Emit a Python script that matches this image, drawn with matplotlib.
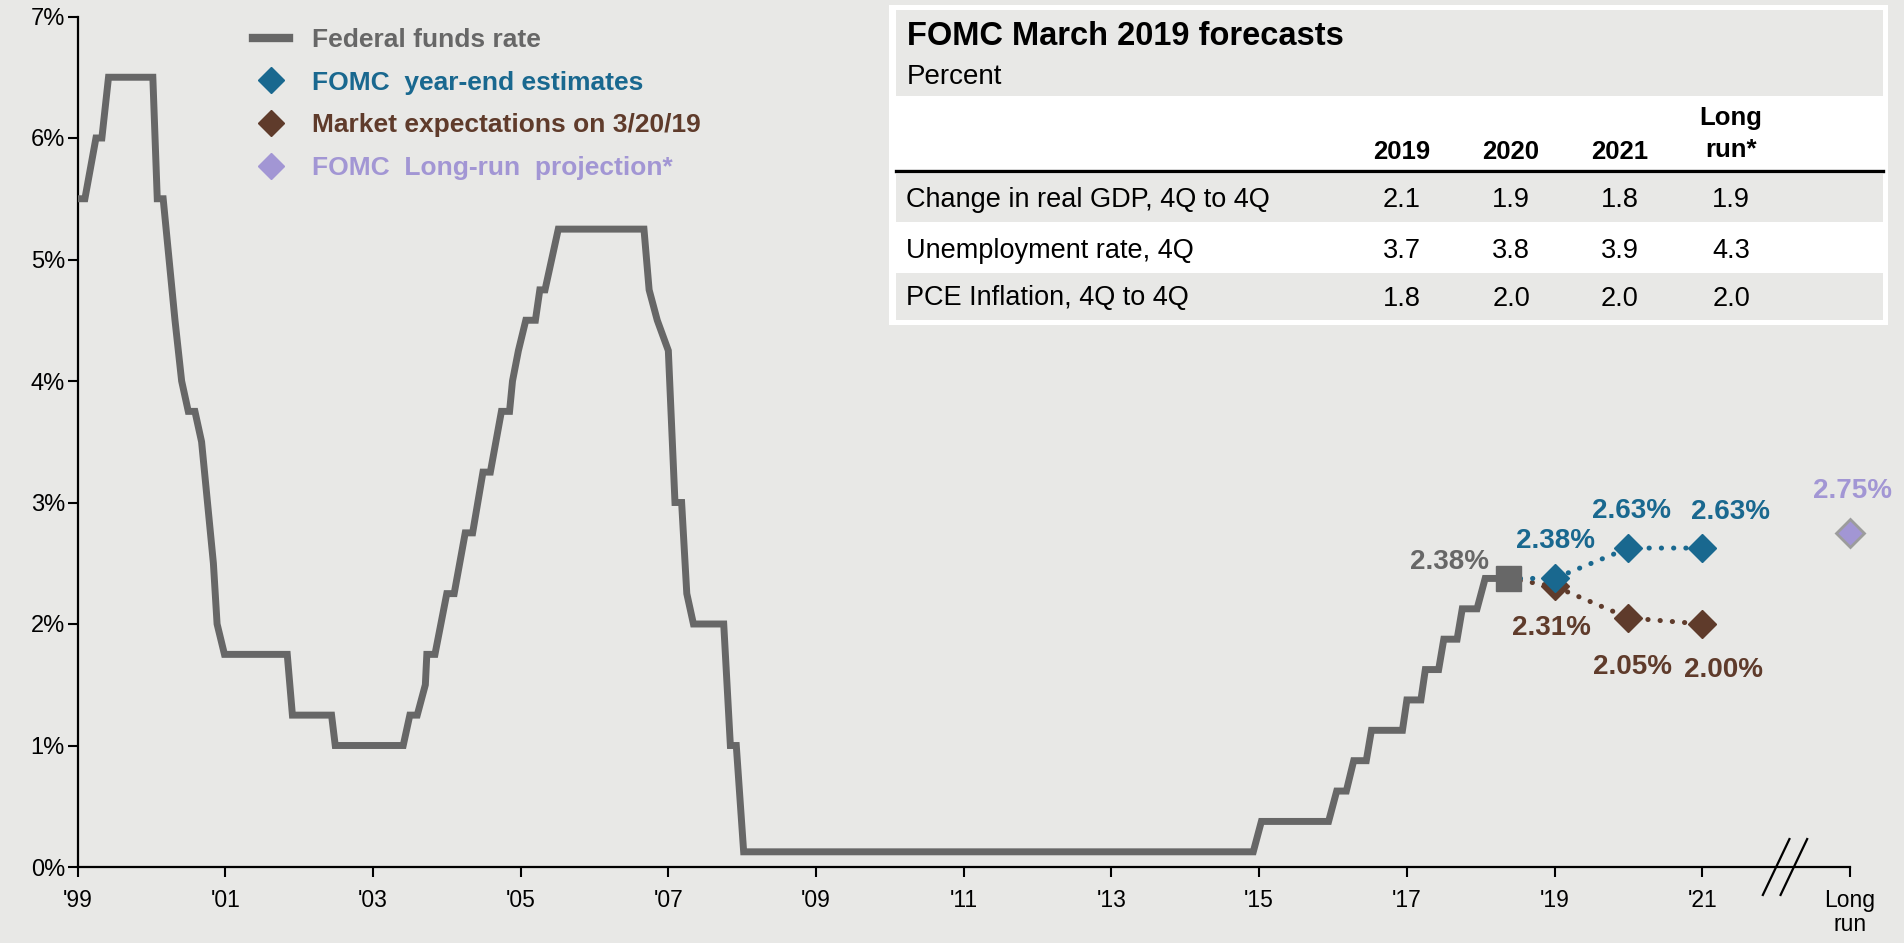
import matplotlib.pyplot as plt
from matplotlib.lines import Line2D
from matplotlib.patches import Rectangle

# Federal funds rate (chart years as plotted, target rate midpoint %)
fed_years = [1999.0, 1999.1, 1999.25, 1999.33, 1999.42, 2000.02, 2000.08, 2000.16, 2000.32,
             2000.41, 2000.5, 2000.59, 2000.68, 2000.84, 2000.89, 2000.99, 2001.84, 2001.91,
             2002.44, 2002.49, 2003.41, 2003.5, 2003.6, 2003.71, 2003.73, 2003.84, 2004.0,
             2004.1, 2004.25, 2004.35, 2004.49, 2004.59, 2004.74, 2004.85, 2004.89, 2004.97,
             2005.07, 2005.2, 2005.26, 2005.33, 2005.51, 2006.67, 2006.74, 2006.85, 2007.0,
             2007.09, 2007.18, 2007.25, 2007.34, 2007.75, 2007.84, 2007.92, 2008.02, 2014.92,
             2015.03, 2015.94, 2016.05, 2016.18, 2016.28, 2016.45, 2016.52, 2016.94, 2017.0,
             2017.19, 2017.25, 2017.43, 2017.5, 2017.68, 2017.75, 2017.95, 2018.06, 2018.37]
fed_rate = [5.5, 5.5, 6.0, 6.0, 6.5, 6.5, 5.5, 5.5, 4.5,
            4.0, 3.75, 3.75, 3.5, 2.5, 2.0, 1.75, 1.75, 1.25,
            1.25, 1.0, 1.0, 1.25, 1.25, 1.5, 1.75, 1.75, 2.25,
            2.25, 2.75, 2.75, 3.25, 3.25, 3.75, 3.75, 4.0, 4.25,
            4.5, 4.5, 4.75, 4.75, 5.25, 5.25, 4.75, 4.5, 4.25,
            3.0, 3.0, 2.25, 2.0, 2.0, 1.0, 1.0, 0.125, 0.125,
            0.375, 0.375, 0.625, 0.625, 0.875, 0.875, 1.125, 1.125, 1.375,
            1.375, 1.625, 1.625, 1.875, 1.875, 2.125, 2.125, 2.375, 2.375]
last_label = "2.38%"

# forecasts
fc_years = [2019, 2020, 2021]
fomc_est = [2.375, 2.625, 2.625]
fomc_labels = ["2.38%", "2.63%", "2.63%"]
market_exp = [2.31, 2.05, 2.00]
market_labels = ["2.31%", "2.05%", "2.00%"]
longrun_x = 2023
longrun_val = 2.75
longrun_label = "2.75%"

# axis ticks
xtick_pos = [1999, 2001, 2003, 2005, 2007, 2009, 2011, 2013, 2015, 2017, 2019, 2021, 2023]
xtick_lab = ["'99", "'01", "'03", "'05", "'07", "'09", "'11", "'13", "'15", "'17", "'19", "'21",
             "Long\nrun"]
ytick_pos = [0, 1, 2, 3, 4, 5, 6, 7]

# table
tbl_title = "FOMC March 2019 forecasts"
tbl_sub = "Percent"
tbl_cols = ["2019", "2020", "2021", "Long\nrun*"]
tbl_rows = ["Change in real GDP, 4Q to 4Q", "Unemployment rate, 4Q", "PCE Inflation, 4Q to 4Q"]
tbl_vals = [["2.1", "1.9", "1.8", "1.9"],
            ["3.7", "3.8", "3.9", "4.3"],
            ["1.8", "2.0", "2.0", "2.0"]]

BG = '#e8e8e6'
GRAY = '#676767'
BLUE = '#19688f'
BROWN = '#5f3b2b'
PURPLE = '#a296d4'

plt.rcParams['font.family'] = ['Liberation Sans', 'DejaVu Sans']

W, H = 1904, 943
fig = plt.figure(figsize=(W / 100, H / 100), dpi=100, facecolor=BG)
ax = fig.add_axes([77.5 / W, 76 / H, (1850 - 77.5) / W, 850.5 / H])
ax.set_facecolor(BG)
ax.set_xlim(1999, 2023)
ax.set_ylim(0, 7)

for s in ['top', 'right']:
    ax.spines[s].set_visible(False)
for s in ['left', 'bottom']:
    ax.spines[s].set_linewidth(1.6)
    ax.spines[s].set_color('black')

ax.set_xticks(xtick_pos)
ax.set_xticklabels(xtick_lab, fontsize=16.5, linespacing=1.05)
ax.set_yticks(ytick_pos)
ax.set_yticklabels([f"{v}%" for v in ytick_pos], fontsize=17)
ax.tick_params(axis='x', direction='out', length=7, width=1.5, pad=9)
ax.tick_params(axis='y', direction='out', length=7, width=1.5, pad=2)

# fed funds line
ax.plot(fed_years, fed_rate, color=GRAY, lw=5, solid_joinstyle='miter', zorder=3)

# dotted connectors from the last actual point
x0, y0 = fed_years[-1], fed_rate[-1]
dots = dict(lw=3.6, linestyle=(0, (0.05, 2.4)), dash_capstyle='round', zorder=4)
ax.plot([x0] + fc_years, [y0] + market_exp, color=BROWN, **dots)
ax.plot([x0] + fc_years, [y0] + fomc_est, color=BLUE, **dots)
ax.plot(fc_years, market_exp, 'D', color=BROWN, ms=14, ls='none', zorder=5)
ax.plot(fc_years, fomc_est, 'D', color=BLUE, ms=14, ls='none', zorder=6)
ax.plot([longrun_x], [longrun_val], 'D', mfc=PURPLE, mec='#9c9c9c', mew=2, ms=14,
        clip_on=False, zorder=6)
ax.plot([x0], [y0], 's', color=GRAY, ms=18, zorder=7)

lab = dict(textcoords='offset points', ha='center', va='center', fontsize=20,
           fontweight='bold', annotation_clip=False)
ax.annotate(last_label, (x0, y0), xytext=(-42, 12), color=GRAY, **lab)
blue_off = [(1, 27), (2, 27), (20, 26)]
brown_off = [(-2, -30), (3, -35), (15, -33)]
for x, v, t, o in zip(fc_years, fomc_est, fomc_labels, blue_off):
    ax.annotate(t, (x, v), xytext=o, color=BLUE, **lab)
for x, v, t, o in zip(fc_years, market_exp, market_labels, brown_off):
    ax.annotate(t, (x, v), xytext=o, color=BROWN, **lab)
ax.annotate(longrun_label, (longrun_x, longrun_val), xytext=(2, 30), color=PURPLE, **lab)

# axis break marks
for bx in [2022.0, 2022.24]:
    ax.plot([bx - 0.18, bx + 0.18], [-0.23, 0.23], color='black', lw=1.6,
            clip_on=False, zorder=8)

# legend
handles = [Line2D([], [], color=GRAY, lw=6),
           Line2D([], [], color=BLUE, marker='D', ls='none', ms=13),
           Line2D([], [], color=BROWN, marker='D', ls='none', ms=13),
           Line2D([], [], color=PURPLE, marker='D', ls='none', ms=13)]
names = ["Federal funds rate", "FOMC  year-end estimates", "Market expectations on 3/20/19",
         "FOMC  Long-run  projection*"]
fig.legend(handles, names, loc='upper left', bbox_to_anchor=(253 / W, 1 - 28 / H),
           frameon=False, prop={'weight': 'bold', 'size': 19},
           labelcolor=[GRAY, BLUE, BROWN, PURPLE], handlelength=1.35,
           handletextpad=0.9, labelspacing=0.71, borderpad=0, borderaxespad=0)

# forecast table, drawn in pixel coordinates
tab = fig.add_axes([889 / W, 1 - 325 / H, 999 / W, 320 / H])
tab.set_xlim(889, 1888)
tab.set_ylim(325, 5)
tab.axis('off')
tab.add_patch(Rectangle((889, 5), 999, 320, fc='white', ec='none'))
tab.add_patch(Rectangle((896, 10), 987, 86, fc=BG, ec='none'))
tab.plot([896, 1883], [171, 171], color='black', lw=2.4)
row_top = [174, 224, 273]
row_h = [48, 49, 47]
for i, (t, h) in enumerate(zip(row_top, row_h)):
    if i % 2 == 0:
        tab.add_patch(Rectangle((896, t), 987, h, fc=BG, ec='none'))
tab.text(907, 36, tbl_title, fontsize=23.5, fontweight='bold', va='center', ha='left')
tab.text(907, 77, tbl_sub, fontsize=20, va='center', ha='left')
col_x = [1402, 1511, 1620, 1731]
for cx, c in zip(col_x, tbl_cols):
    cy = 152 if '\n' not in c else 134
    tab.text(cx, cy, c, fontsize=18.5, fontweight='bold', ha='center', va='center',
             linespacing=1.45)
for t, h, name, vals in zip(row_top, row_h, tbl_rows, tbl_vals):
    yc = t + h / 2 + 2
    tab.text(906, yc, name, fontsize=19.5, ha='left', va='center')
    for cx, v in zip(col_x, vals):
        tab.text(cx, yc, v, fontsize=19.5, ha='center', va='center')

fig.savefig('out.png', dpi=100, facecolor=BG)
